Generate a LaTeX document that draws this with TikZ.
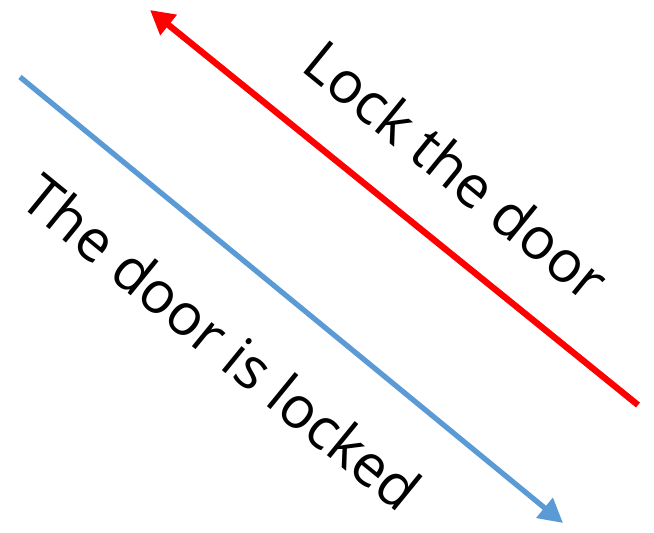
\documentclass[tikz,border=0pt]{standalone}
\usepackage{fontspec}
\setmainfont{Open Sans}
\usetikzlibrary{arrows.meta}
\definecolor{doorblue}{HTML}{5B9BD5}
\definecolor{doorred}{HTML}{FF0000}

\begin{document}
\begin{tikzpicture}[x=0.02cm,y=-0.02cm,
  arrowline/.style={line width=#1,-{Triangle[length=0.48cm,width=0.5cm]}},
  lbl/.style={font=\fontsize{33}{38}\selectfont,rotate=-39.2,inner sep=0pt}]
            \useasboundingbox (0,0) rectangle (654,533);
            \coordinate (R1) at (638,405);
            \coordinate (R2) at (150,10);
            \coordinate (B1) at (20,77);
            \coordinate (B2) at (563,523);
            \draw[arrowline=3.6pt,color=doorred] (R1)--(R2);
            \draw[arrowline=3pt,color=doorblue] (B1)--(B2);

            \node[lbl] (lock) at (457,170) {Lock the door};
            \node[lbl] (locked) at (222,342) {The door is locked};
\end{tikzpicture}
\end{document}
